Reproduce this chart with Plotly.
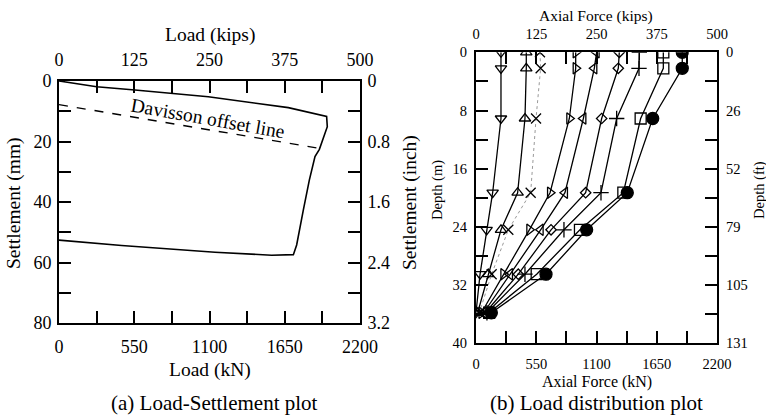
import plotly.graph_objects as go

# ---------------- data: (a) load-settlement ----------------
ls_load_kN = [0, 275, 555, 1091, 1676, 1956, 1961, 1903, 1871, 1830, 1786, 1737, 1713, 1554, 1140, 458, 0]
ls_settle_mm = [0, 1.9, 3.0, 5.2, 8.8, 11.7, 15.1, 22.6, 25.0, 32.7, 42.6, 54.2, 57.4, 57.6, 56.6, 54.4, 52.6]
davisson_load_kN = [0, 1908]
davisson_settle_mm = [7.8, 22.3]

# ---------------- data: (b) load distribution ----------------
depth_m = [0, 2.2, 9.1, 19.3, 24.4, 30.5, 35.8]
force_tri_down = [228, 228, 228, 152, 97, 37, 0]
force_tri_up = [459, 459, 447, 380, 228, 112, 15]
force_x = [584, 590, 548, 499, 295, 143, 30]
force_tri_right = [910, 910, 852, 676, 487, 250, 50]
force_tri_left = [1101, 1080, 980, 812, 590, 310, 70]
force_diamond = [1308, 1299, 1147, 1001, 685, 386, 85]
force_plus = [1491, 1488, 1284, 1141, 803, 447, 100]
force_square = [1710, 1710, 1503, 1345, 949, 554, 120]
force_circle = [1883, 1883, 1613, 1381, 1010, 639, 140]

kN_ticks = [0, 550, 1100, 1650, 2200]
kips_ticks = [0, 125, 250, 375, 500]
mm_ticks = [0, 20, 40, 60, 80]
inch_ticks = [0, 0.8, 1.6, 2.4, 3.2]
inch_labels = ["0", "0.8", "1.6", "2.4", "3.2"]
m_ticks = [0, 8, 16, 24, 32, 40]
ft_labels = ["0", "26", "52", "79", "105", "131"]

FONT = "Liberation Serif"
BLK = "black"

fig = go.Figure()

# (a)
fig.add_trace(go.Scatter(x=ls_load_kN, y=ls_settle_mm, mode="lines",
                         line=dict(color=BLK, width=1.6), xaxis="x", yaxis="y",
                         showlegend=False, hoverinfo="skip"))
fig.add_trace(go.Scatter(x=davisson_load_kN, y=davisson_settle_mm, mode="lines",
                         line=dict(color=BLK, width=1.4, dash="dash"), xaxis="x", yaxis="y",
                         showlegend=False, hoverinfo="skip"))
fig.add_trace(go.Scatter(x=[0], y=[0], mode="markers", marker=dict(opacity=0),
                         xaxis="x2", yaxis="y2", showlegend=False, hoverinfo="skip"))

# (b)
series = [
    (force_tri_down, "triangle-down-open", 10, dict(color=BLK, width=1.3)),
    (force_tri_up, "triangle-up-open", 10, dict(color=BLK, width=1.3)),
    (force_x, "x-thin-open", 10, dict(color="#999999", width=1, dash="dot")),
    (force_tri_right, "triangle-right-open", 10, dict(color=BLK, width=1.3)),
    (force_tri_left, "triangle-left-open", 10, dict(color=BLK, width=1.3)),
    (force_diamond, "diamond-open", 8, dict(color=BLK, width=1.3)),
    (force_plus, "cross-thin-open", 11, dict(color=BLK, width=1.3)),
    (force_square, "square-open", 11, dict(color=BLK, width=1.3)),
    (force_circle, "circle", 12, dict(color=BLK, width=1.3)),
]
for vals, sym, sz, ln in series:
    fig.add_trace(go.Scatter(x=vals, y=depth_m, mode="lines+markers", line=ln,
                             marker=dict(symbol=sym, size=sz, color=BLK,
                                         line=dict(color=BLK, width=1.3)),
                             xaxis="x3", yaxis="y3", showlegend=False, hoverinfo="skip"))
fig.add_trace(go.Scatter(x=[0], y=[0], mode="markers", marker=dict(opacity=0),
                         xaxis="x4", yaxis="y4", showlegend=False, hoverinfo="skip"))

def ax(**kw):
    base = dict(showgrid=False, zeroline=False, showline=True, linecolor=BLK, linewidth=2,
                ticks="inside", ticklen=12, tickwidth=1.6, tickcolor=BLK, automargin=False,
                tickfont=dict(family=FONT, size=18, color=BLK))
    base.update(kw)
    return base

def minor(d, ln=12):
    return dict(dtick=d, ticks="inside", ticklen=ln, tickwidth=1.6, tickcolor=BLK, showgrid=False)

LX = [59 / 766, 360 / 766]
LY = [1 - 323 / 415, 1 - 81 / 415]
RX = [476 / 766, 717 / 766]
RY = [1 - 343.3 / 415, 1 - 52.3 / 415]

fs_r = 14.5
fr = dict(family=FONT, size=fs_r, color=BLK)
fig.update_layout(
    width=766, height=415, margin=dict(l=0, r=0, t=0, b=0, pad=0, autoexpand=False),
    paper_bgcolor="white", plot_bgcolor="white",
    font=dict(family=FONT, color=BLK),
    xaxis=ax(domain=LX, range=[0, 2200], tickvals=kN_ticks, minor=minor(275), anchor="y",
             ticklabelstandoff=6),
    yaxis=ax(domain=LY, range=[80, 0], tickvals=mm_ticks, minor=minor(10), anchor="x",
             ticklabelstandoff=2),
    xaxis2=ax(domain=LX, range=[0, 500], tickvals=kips_ticks, minor=minor(62.5), side="top",
              overlaying="x", anchor="y2", ticklabelstandoff=6),
    yaxis2=ax(domain=LY, range=[3.2, 0], tickvals=inch_ticks, ticktext=inch_labels,
              minor=minor(0.4), side="right", overlaying="y", anchor="x2", ticklabelstandoff=2),
    xaxis3=ax(domain=RX, range=[0, 2200], tickvals=kN_ticks, minor=minor(275),
              tickfont=fr, anchor="y3", ticklabelstandoff=6),
    yaxis3=ax(domain=RY, range=[40, 0], tickvals=m_ticks, minor=minor(4),
              tickfont=fr, anchor="x3", ticklabelstandoff=4),
    xaxis4=ax(domain=RX, range=[0, 500], tickvals=kips_ticks, minor=minor(62.5), side="top",
              tickfont=fr, overlaying="x3", anchor="y4", ticklabelstandoff=6),
    yaxis4=ax(domain=RY, range=[40, 0], tickvals=m_ticks, ticktext=ft_labels, minor=minor(4),
              side="right", tickfont=fr, overlaying="y3", anchor="x4", ticklabelstandoff=4),
)

def txt(x, y, s, size, angle=0):
    fig.add_annotation(x=x / 766, y=1 - y / 415, xref="paper", yref="paper", text=s,
                       showarrow=False, textangle=angle, xanchor="center", yanchor="middle",
                       font=dict(family=FONT, size=size, color=BLK))

txt(210, 35, "Load (kips)", 19.5)
txt(210, 370, "Load (kN)", 19.5)
txt(214, 403, "(a) Load-Settlement plot", 21)
txt(14, 203, "Settlement (mm)", 19.5, -90)
txt(410, 203, "Settlement (inch)", 19.5, -90)
txt(596, 16, "Axial Force (kips)", 15.5)
txt(597, 382, "Axial Force (kN)", 16)
txt(596, 403, "(b) Load distribution plot", 21)
txt(438, 190, "Depth (m)", 14.5, -90)
txt(760, 190, "Depth (ft)", 14.5, -90)

fig.add_annotation(x=1089, y=12.3, xref="x", yref="y", text="Davisson offset line",
                   showarrow=False, textangle=10, font=dict(family=FONT, size=19.5, color=BLK))

fig.write_html("out.html", config={"displayModeBar": False},
               post_script="document.body.style.margin='0';")
